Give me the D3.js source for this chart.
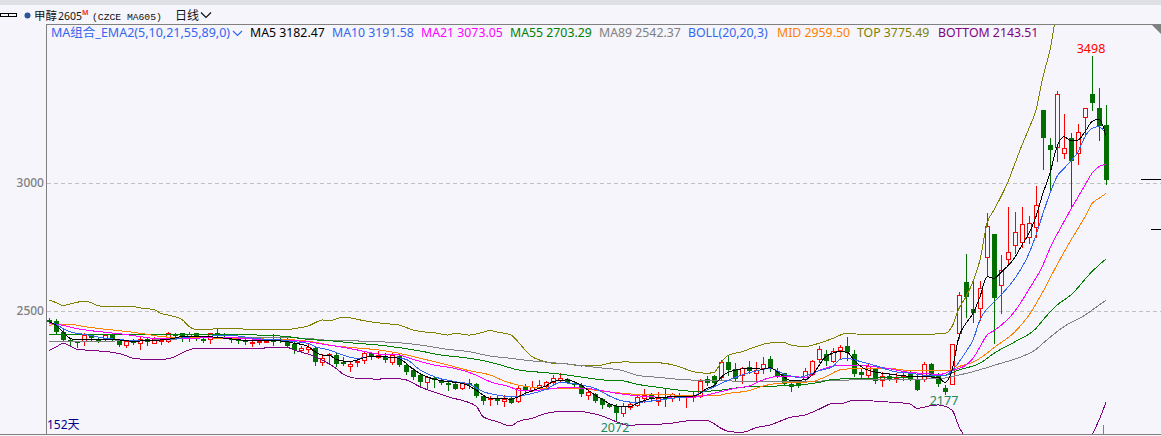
<!DOCTYPE html>
<html><head><meta charset="utf-8">
<script src="https://cdn.jsdelivr.net/npm/d3@7/dist/d3.min.js"></script>
<style>
html,body{margin:0;padding:0;background:#f5f5fb;overflow:hidden}
svg{display:block}
text{font-family:"Noto Sans","Noto Sans CJK SC",sans-serif}
</style></head><body><div id="chart"></div>
<script>
const opens=[2465,2461,2418,2388,2383,2384,2405,2392,2389,2405,
2387,2369,2384,2374,2392,2376,2385,2384,2410,2413,
2397,2413,2391,2389,2413,2410,2393,2389,2387,2374,
2378,2382,2387,2391,2382,2371,2349,2353,2357,2300,
2328,2329,2302,2286,2300,2310,2335,2322,2326,2301,
2326,2289,2270,2250,2224,2238,2231,2217,2215,2198,
2217,2214,2168,2155,2158,2150,2159,2147,2202,2191,
2204,2207,2224,2232,2236,2219,2212,2172,2176,2156,
2137,2130,2103,2124,2134,2161,2176,2150,2163,2161,
2172,2165,2163,2168,2234,2246,2241,2301,2272,2249,
2280,2259,2279,2311,2267,2257,2215,2219,2236,2254,
2311,2332,2306,2346,2362,2332,2262,2250,2273,2231,
2247,2240,2244,2262,2232,2234,2293,2254,2199,2215,
2413,2613,2508,2510,2710,2801,2600,2704,2757,2771,
2790,2829,3285,3148,3142,3116,3176,3118,3257,3346,
3292,3225];
const closes=[2457,2418,2388,2380,2380,2406,2393,2389,2406,2387,
2369,2384,2376,2389,2379,2389,2387,2413,2405,2400,
2410,2402,2384,2413,2405,2404,2389,2383,2380,2379,
2382,2384,2384,2384,2365,2348,2357,2359,2301,2315,
2331,2293,2298,2292,2303,2335,2322,2328,2307,2327,
2288,2260,2242,2223,2241,2234,2217,2211,2197,2217,
2212,2168,2148,2159,2155,2158,2142,2201,2188,2204,
2211,2224,2238,2238,2217,2210,2176,2182,2148,2133,
2126,2100,2130,2135,2163,2172,2155,2161,2155,2176,
2165,2168,2168,2225,2219,2220,2300,2270,2233,2279,
2267,2270,2292,2276,2245,2216,2204,2208,2264,2303,
2350,2306,2342,2358,2339,2254,2249,2287,2227,2246,
2234,2244,2247,2234,2191,2292,2246,2215,2182,2370,
2563,2556,2491,2589,2832,2552,2659,2729,2807,2839,
2845,2913,3176,3129,3346,3135,3086,3198,3292,3314,
3223,3012];
const highs=[2471,2469,2432,2396,2384,2413,2410,2393,2410,2413,
2389,2387,2392,2397,2396,2397,2393,2419,2413,2415,
2419,2415,2393,2415,2432,2413,2397,2392,2389,2387,
2387,2389,2410,2400,2393,2380,2363,2376,2361,2331,
2335,2337,2319,2306,2315,2341,2341,2345,2337,2337,
2332,2293,2276,2254,2241,2241,2233,2228,2228,2224,
2233,2217,2172,2168,2172,2172,2163,2211,2215,2227,
2231,2228,2249,2257,2237,2224,2217,2194,2178,2159,
2142,2137,2139,2139,2176,2195,2181,2182,2194,2181,
2178,2172,2185,2233,2246,2250,2309,2328,2296,2283,
2305,2300,2322,2324,2276,2259,2223,2231,2276,2309,
2363,2348,2357,2367,2398,2348,2276,2296,2276,2263,
2257,2259,2257,2270,2254,2302,2296,2257,2211,2370,
2576,2723,2617,2617,2881,2801,2719,2905,2885,2905,
2871,2988,3285,3176,3359,3269,3194,3230,3292,3498,
3370,3305];
const lows=[2452,2413,2387,2367,2361,2367,2384,2380,2384,2384,
2365,2361,2371,2352,2367,2374,2371,2380,2393,2384,
2384,2387,2380,2374,2400,2397,2380,2374,2371,2365,
2371,2378,2367,2378,2361,2337,2341,2341,2290,2289,
2293,2287,2289,2267,2287,2296,2311,2315,2301,2293,
2285,2254,2233,2211,2194,2204,2215,2191,2195,2195,
2199,2165,2137,2133,2135,2130,2141,2145,2185,2189,
2198,2204,2215,2225,2217,2202,2168,2155,2145,2122,
2124,2072,2091,2119,2129,2146,2151,2133,2129,2150,
2152,2126,2148,2163,2211,2211,2234,2250,2228,2217,
2257,2231,2257,2267,2241,2214,2189,2204,2221,2250,
2301,2288,2300,2315,2309,2246,2237,2244,2220,2207,
2231,2224,2231,2231,2191,2227,2241,2207,2177,2215,
2393,2478,2458,2465,2641,2376,2494,2686,2725,2751,
2764,2790,3056,2970,3086,3096,2910,3074,3191,3285,
3168,2996];

// line series at these candle positions
const ma5Idx=[0,1,2,3,4,6,8,10,12,14,16,17,19,21,24,26,29,32,34,35,36,37,38,39,40,41,43,44,46,47,49,50,51,52,54,56,59,60,61,63,64,66,68,70,71,72,74,75,76,77,79,81,83,84,86,89,92,93,94,95,96,97,100,102,103,104,106,108,109,111,113,114,115,116,118,120,122,124,127,128,129,130,131,132,133,134,135,136,138,139,140,141,142,143,144,145,146,147,148,149,150,151];
const ma5=[2458,2445,2419,2393,2387,2387,2389,2387,2382,2384,2387,2389,2400,2402,2397,2391,2384,2384,2380,2374,2370,2361,2341,2328,2328,2311,2302,2309,2322,2322,2319,2315,2296,2273,2243,2228,2217,2207,2191,2159,2158,2156,2178,2198,2207,2224,2231,2224,2211,2191,2155,2129,2126,2139,2158,2165,2168,2178,2198,2208,2241,2260,2276,2273,2279,2263,2229,2231,2250,2322,2341,2339,2309,2283,2262,2254,2247,2244,2241,2221,2270,2400,2452,2491,2556,2634,2628,2651,2710,2758,2803,2869,2960,3038,3142,3181,3165,3168,3200,3240,3250,3182.47];
const ma10Idx=[0,1,2,3,5,6,8,10,12,14,16,18,20,23,26,30,33,35,37,38,40,42,44,46,49,51,53,55,58,60,62,64,66,68,71,73,76,78,80,82,84,86,89,92,94,96,99,101,103,105,107,110,112,113,114,116,118,121,123,126,128,129,131,132,133,135,136,138,140,141,142,143,144,145,146,147,148,149,150,151];
const ma10=[2456,2448,2432,2419,2409,2404,2393,2389,2384,2384,2387,2392,2398,2402,2404,2391,2387,2380,2374,2361,2348,2328,2315,2322,2319,2311,2270,2244,2224,2215,2185,2172,2165,2172,2194,2220,2211,2198,2169,2148,2143,2148,2159,2168,2191,2217,2250,2266,2276,2254,2241,2267,2283,2311,2314,2302,2287,2262,2257,2247,2247,2267,2341,2387,2465,2536,2563,2628,2725,2797,2881,2960,3025,3057,3086,3122,3181,3213,3220,3191.58];
const ma21Idx=[0,2,4,6,8,11,13,15,17,20,25,30,33,35,37,39,42,44,47,50,52,55,58,61,63,66,67,69,71,74,76,78,80,82,84,88,90,92,94,96,98,100,102,104,106,108,110,112,114,116,119,123,126,127,129,131,132,133,134,135,138,140,142,143,145,148,149,150,151];
const ma21=[2452,2444,2431,2423,2417,2408,2400,2393,2391,2393,2397,2389,2387,2384,2380,2371,2358,2348,2332,2328,2311,2289,2276,2250,2224,2202,2191,2189,2194,2202,2199,2194,2184,2175,2169,2163,2165,2163,2172,2185,2198,2207,2231,2244,2244,2241,2267,2285,2288,2287,2279,2260,2254,2251,2267,2289,2315,2360,2406,2423,2500,2585,2680,2745,2849,2992,3038,3064,3073.05];
const ma55Idx=[0,10,20,26,32,34,37,40,43,47,50,53,56,59,62,64,67,71,74,76,79,82,84,87,90,93,96,99,102,104,107,110,112,115,122,128,130,133,135,138,141,142,144,146,149,151];
const ma55=[2410,2410,2409,2408,2404,2400,2389,2384,2376,2367,2357,2344,2328,2319,2306,2293,2270,2259,2250,2242,2231,2227,2214,2202,2191,2185,2191,2202,2207,2207,2211,2221,2233,2236,2241,2249,2270,2296,2335,2380,2432,2465,2523,2563,2654,2703.29];
const ma89Idx=[0,6,12,17,22,26,33,37,39,43,47,50,53,57,60,63,66,69,72,76,78,82,84,87,90,93,97,102,106,111,115,120,127,129,132,136,139,141,142,145,148,150,151];
const ma89=[2382,2382,2384,2389,2395,2397,2396,2393,2387,2384,2380,2376,2367,2350,2341,2324,2315,2305,2298,2287,2280,2267,2249,2241,2233,2229,2227,2223,2223,2227,2231,2233,2235,2244,2263,2296,2322,2350,2374,2439,2484,2523,2542.37];
const midIdx=[0,1,3,5,7,9,12,14,16,18,20,27,33,35,38,40,43,47,50,52,54,57,60,63,65,67,69,71,74,76,78,80,83,85,89,92,95,97,100,102,104,106,109,111,113,115,116,120,123,127,129,130,132,134,135,138,140,142,144,146,148,149,150,151];
const mid=[2444,2447,2448,2439,2432,2426,2417,2409,2400,2397,2396,2393,2389,2387,2378,2367,2358,2348,2335,2322,2309,2289,2267,2250,2227,2211,2202,2198,2198,2198,2191,2184,2176,2172,2172,2168,2168,2178,2189,2207,2217,2220,2224,2244,2270,2275,2276,2276,2267,2267,2270,2283,2300,2335,2357,2419,2484,2576,2680,2777,2868,2920,2940,2959.5];
const topIdx=[0,1,2,3,4,5,6,7,9,12,13,15,16,17,19,20,21,23,24,26,29,32,34,36,37,38,39,40,42,43,45,47,48,50,52,54,55,57,58,60,62,63,64,66,67,68,69,71,72,73,75,76,78,79,80,82,84,87,90,92,94,95,96,97,99,101,103,105,106,108,110,112,114,116,118,122,125,128,129,130,131,132,133,134,135,136,137,138,139,140,141,142,143,144,146,151];
const top_=[2543,2533,2522,2527,2534,2538,2533,2520,2518,2517,2512,2505,2491,2484,2467,2439,2428,2428,2432,2432,2428,2428,2428,2436,2441,2454,2465,2462,2475,2473,2462,2454,2451,2445,2426,2417,2415,2406,2413,2406,2417,2424,2418,2406,2380,2348,2322,2302,2296,2296,2289,2285,2288,2289,2296,2301,2300,2298,2283,2263,2257,2260,2298,2326,2341,2361,2375,2376,2367,2361,2374,2393,2413,2409,2409,2409,2409,2413,2439,2510,2556,2615,2699,2842,2895,2947,3005,3077,3148,3214,3285,3415,3519,3660,3720,3775.49];
const bottomIdx=[0,1,2,3,4,5,7,9,11,12,14,15,17,18,20,21,26,30,32,34,35,38,39,41,42,44,47,49,51,53,57,61,62,64,66,67,69,71,73,76,77,79,81,83,84,88,92,94,96,97,99,101,103,106,108,110,112,113,115,119,123,124,126,127,129,130,131,133,140,147,149,150,151];
const bottom=[2345,2359,2374,2363,2350,2348,2344,2339,2326,2315,2311,2310,2313,2322,2348,2354,2354,2354,2358,2358,2348,2322,2309,2276,2254,2237,2234,2237,2231,2204,2165,2129,2087,2068,2051,2068,2081,2100,2107,2107,2103,2090,2068,2052,2056,2059,2072,2072,2042,2030,2026,2044,2055,2085,2094,2116,2139,2137,2152,2146,2137,2120,2130,2133,2113,2048,2000,1900,1800,1950,2016,2074,2143.51];

const seriesList=[
 {idx:bottomIdx,vals:bottom,color:"#800080"},
 {idx:topIdx,vals:top_,color:"#808000"},
 {idx:ma89Idx,vals:ma89,color:"#808080"},
 {idx:ma55Idx,vals:ma55,color:"#008000"},
 {idx:midIdx,vals:mid,color:"#ff8000"},
 {idx:ma21Idx,vals:ma21,color:"#ff00ff"},
 {idx:ma10Idx,vals:ma10,color:"#3366ee"},
 {idx:ma5Idx,vals:ma5,color:"#000000"}
];
const legendTexts=["MA5 3182.47","MA10 3191.58","MA21 3073.05","MA55 2703.29","MA89 2542.37","BOLL(20,20,3)","MID 2959.50","TOP 3775.49","BOTTOM 2143.51"];
const legendColors=["#000000","#3366ee","#ff00ff","#008000","#808080","#3366ee","#ff8000","#808000","#800080"];
const legendX=[250,332,421,510,599,688,777,857,938];
const yTicks=[2500,3000];

const W=1161,H=436;
const svg=d3.select("#chart").append("svg").attr("width",W).attr("height",H);
const x=d3.scaleLinear().domain([0,151]).range([49,1106]);
const y=d3.scaleLinear().domain([2500,3000]).range([311,183]);
const cx=i=>Math.round(x(i));
const cy=v=>Math.round(y(v));
const red="#ff0000",green="#006f00",bg="#f5f5fb";

// chrome
svg.append("rect").attr("width",W).attr("height",H).attr("fill",bg);
svg.append("rect").attr("width",W).attr("height",5).attr("fill","#dfe0e5");
svg.append("line").attr("x1",46.5).attr("x2",W).attr("y1",24.5).attr("y2",24.5).attr("stroke","#808080");
svg.append("line").attr("x1",46.5).attr("x2",46.5).attr("y1",24).attr("y2",434).attr("stroke","#808080");
svg.append("line").attr("x1",0).attr("x2",W).attr("y1",434.5).attr("y2",434.5).attr("stroke","#808080");
svg.append("path").attr("d","M1152 25H1161V34Z").attr("fill","#808080");
svg.append("line").attr("x1",1103.5).attr("x2",1103.5).attr("y1",425).attr("y2",434).attr("stroke","#808080");
svg.append("line").attr("x1",1141).attr("x2",W).attr("y1",179.5).attr("y2",179.5).attr("stroke","#000");
svg.append("line").attr("x1",1151).attr("x2",W).attr("y1",229.5).attr("y2",229.5).attr("stroke","#000");

// y axis with dashed grid
const axis=d3.axisLeft(y).tickValues(yTicks).tickSize(0).tickPadding(2).tickFormat(d3.format("d"));
const gAxis=svg.append("g").attr("transform","translate(46,0)").call(axis);
gAxis.select(".domain").remove();
gAxis.selectAll("text").attr("fill","#808080").style("font-size","12px").style("font-weight","500").style("font-family",'"Noto Sans",sans-serif');
svg.append("g").selectAll("line").data(yTicks).join("line")
 .attr("x1",47).attr("x2",W).attr("y1",d=>cy(d)+.5).attr("y2",d=>cy(d)+.5)
 .attr("stroke","#c0c0c0").attr("stroke-dasharray","4 3");

// clip
svg.append("clipPath").attr("id","plot").append("rect").attr("x",47).attr("y",25).attr("width",W-47).attr("height",409);
const plot=svg.append("g").attr("clip-path","url(#plot)");

// candles
const idx=d3.range(opens.length);
const candle=plot.append("g").attr("shape-rendering","crispEdges").selectAll("g").data(idx).join("g");
const isUp=i=>closes[i]>=opens[i];
candle.append("line")
 .attr("x1",i=>cx(i)+.5).attr("x2",i=>cx(i)+.5)
 .attr("y1",i=>cy(highs[i])).attr("y2",i=>cy(lows[i])+1)
 .attr("stroke",i=>isUp(i)?red:green);
candle.append("rect")
 .attr("x",i=>cx(i)-2+(isUp(i)?.5:0))
 .attr("y",i=>cy(Math.max(opens[i],closes[i]))+(isUp(i)?.5:0))
 .attr("width",i=>isUp(i)?4:5)
 .attr("height",i=>Math.max(cy(Math.min(opens[i],closes[i]))-cy(Math.max(opens[i],closes[i])),isUp(i)?1:2))
 .attr("fill",i=>isUp(i)?bg:green)
 .attr("stroke",i=>isUp(i)?red:"none");

// lines
const line=d3.line().x(d=>x(d[0])).y(d=>y(d[1])).curve(d3.curveMonotoneX);
plot.append("g").attr("shape-rendering","crispEdges").selectAll("path").data(seriesList).join("path")
 .attr("fill","none").attr("stroke",d=>d.color).attr("stroke-width",1)
 .attr("d",d=>line(d.idx.map((k,j)=>[k,d.vals[j]])));

// legend
const legendY=37;
svg.append("text").attr("x",51).attr("y",legendY).attr("fill","#3366ee").style("font-size","12.5px").text("MA组合_EMA2(5,10,21,55,89,0)");
svg.append("path").attr("d","M233 31L237.5 35.5L242 31").attr("fill","none").attr("stroke","#3366ee").attr("stroke-width",1.2);
svg.append("g").selectAll("text").data(legendTexts).join("text")
 .attr("x",(d,i)=>legendX[i]).attr("y",legendY)
 .attr("fill",(d,i)=>legendColors[i]).style("font-size","12.3px").text(d=>d);

// annotations
svg.append("text").attr("x",1091).attr("y",53).attr("text-anchor","middle").attr("fill","#ff0000").style("font-size","12.5px").text("3498");
svg.append("text").attr("x",615).attr("y",432).attr("text-anchor","middle").attr("fill","#1f8a5a").style("font-size","12.5px").text("2072");
svg.append("text").attr("x",944).attr("y",405).attr("text-anchor","middle").attr("fill","#1f8a5a").style("font-size","12.5px").text("2177");
svg.append("text").attr("x",47).attr("y",429).attr("fill","#000090").style("font-size","12px").text("152天");

// toolbar
const chain=svg.append("g").attr("fill","none").attr("stroke","#000").attr("stroke-width",1);
chain.append("rect").attr("x",.5).attr("y",13.5).attr("width",8).attr("height",3);
chain.append("rect").attr("x",8.5).attr("y",13.5).attr("width",8).attr("height",3);
svg.append("circle").attr("cx",27.5).attr("cy",15.5).attr("r",3).attr("fill","#2f5597");
svg.append("text").attr("x",34).attr("y",20).attr("fill","#111").style("font-size","11.5px").style("font-family",'"Noto Sans CJK SC"').text("甲醇");
svg.append("text").attr("x",58).attr("y",20).attr("fill","#111").style("font-size","10.5px").text("2605");
svg.append("text").attr("x",82).attr("y",15).attr("fill","#ff3030").style("font-size","7px").style("font-weight","700").text("M");
svg.append("text").attr("x",92).attr("y",20).attr("fill","#111").style("font-size","9.7px").style("font-family",'"Liberation Mono",monospace').text("(CZCE MA605)");
svg.append("text").attr("x",175).attr("y",20).attr("fill","#111").style("font-size","12px").style("font-family",'"Noto Sans CJK SC"').text("日线");
svg.append("path").attr("d","M201 12.5L206 17.5L211 12.5").attr("fill","none").attr("stroke","#111").attr("stroke-width",1.2);
</script></body></html>
